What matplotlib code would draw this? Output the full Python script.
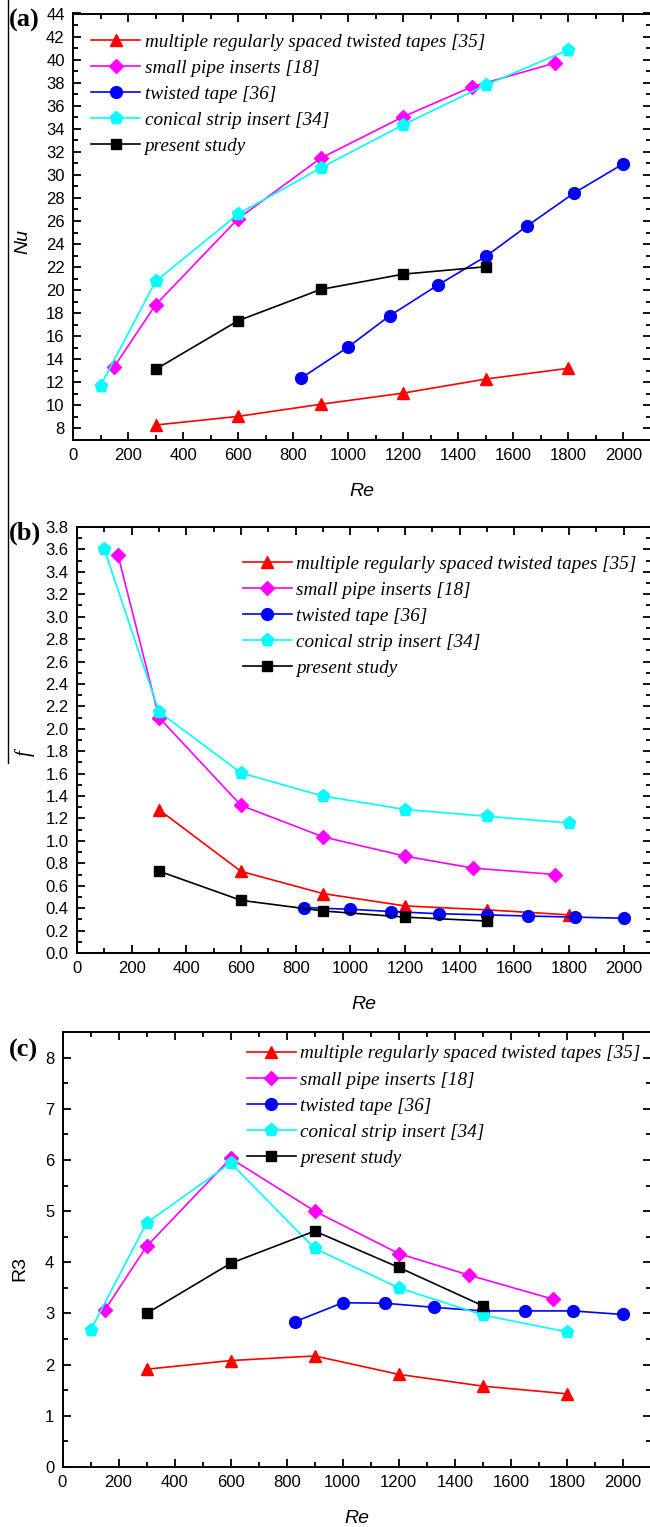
import matplotlib
matplotlib.use("Agg")
import matplotlib.pyplot as plt
from matplotlib.ticker import MultipleLocator
from matplotlib.lines import Line2D

# ---------------- data ----------------
labels = ["multiple regularly spaced twisted tapes [35]",
          "small pipe inserts [18]",
          "twisted tape [36]",
          "conical strip insert [34]",
          "present study"]
colors = ["#ff0000", "#ff00ff", "#0000ff", "#00ffff", "#000000"]
markers = ["^", "D", "o", "p", "s"]

# Re values
re_msst = [300, 600, 900, 1200, 1500, 1800]
re_spi = [150, 300, 600, 900, 1200, 1450, 1750]
re_tt = [830, 1000, 1150, 1325, 1500, 1650, 1822, 2000]
re_csi = [100, 300, 600, 900, 1200, 1500, 1800]
re_ps = [300, 600, 900, 1200, 1500]

# (a) Nu
nu_msst = [8.3, 9.05, 10.1, 11.07, 12.29, 13.22]
nu_spi = [13.36, 18.72, 26.2, 31.45, 35.05, 37.65, 39.7]
nu_tt = [12.38, 15.07, 17.77, 20.43, 22.93, 25.57, 28.45, 30.97]
nu_csi = [11.7, 20.76, 26.6, 30.6, 34.35, 37.8, 40.85]
nu_ps = [13.13, 17.35, 20.06, 21.39, 22.03]

# (b) f
f_msst = [1.278, 0.728, 0.53, 0.42, 0.385, 0.34]
f_spi = [3.55, 2.10, 1.317, 1.036, 0.864, 0.757, 0.70]
f_tt = [0.405, 0.39, 0.37, 0.35, 0.34, 0.33, 0.32, 0.31]
f_csi = [3.60, 2.152, 1.606, 1.40, 1.28, 1.22, 1.16]
f_ps = [0.73, 0.47, 0.375, 0.32, 0.285]

# (c) R3
r3_msst = [1.91, 2.08, 2.17, 1.81, 1.58, 1.43]
r3_spi = [3.06, 4.31, 6.03, 5.0, 4.17, 3.75, 3.28]
r3_tt = [2.84, 3.21, 3.2, 3.12, 3.05, 3.05, 3.05, 2.98]
r3_csi = [2.67, 4.77, 5.94, 4.27, 3.5, 2.97, 2.64]
r3_ps = [3.0, 3.98, 4.61, 3.90, 3.15]

xs = [re_msst, re_spi, re_tt, re_csi, re_ps]
panel_ys = [
    [nu_msst, nu_spi, nu_tt, nu_csi, nu_ps],
    [f_msst, f_spi, f_tt, f_csi, f_ps],
    [r3_msst, r3_spi, r3_tt, r3_csi, r3_ps],
]

W, H = 650, 1527
fig = plt.figure(figsize=(W / 100, H / 100), dpi=100)

def rect(l, t, r, b):
    return [l / W, 1 - b / H, (r - l) / W, (b - t) / H]

ax_rects = [rect(73, 13.5, 651, 440), rect(77, 527, 651, 953), rect(62.5, 1032, 651, 1467)]
ylims = [(7, 44), (0, 3.8), (0, 8.5)]
ymaj = [2, 0.2, 1]
ymin = [1, 0.1, 0.5]
yfmt = ["{:.0f}", "{:.1f}", "{:.0f}"]
ylab = ["Nu", "f", "R3"]
ylab_coords = [(-0.072, 0.465), (-0.074, 0.47), (-0.058, 0.457)]
letters = ["(a)", "(b)", "(c)"]
letter_pos = [(24, 20), (25, 533), (23, 1050)]
leg_anchor = [(0.032, 0.953), (0.289, 0.933), (0.3135, 0.970)]

sans = ["Liberation Sans", "DejaVu Sans"]
serif = ["Liberation Serif", "DejaVu Serif"]

msizes = {"^": 8.5, "D": 7.2, "o": 8.5, "p": 9.5, "s": 7.8}

for i in range(3):
    ax = fig.add_axes(ax_rects[i])
    for k in range(5):
        ax.plot(xs[k], panel_ys[i][k], color=colors[k], marker=markers[k],
                markersize=msizes[markers[k]], linewidth=1.2, label=labels[k])
    ax.set_xlim(0, 2100)
    ax.set_ylim(*ylims[i])
    ax.xaxis.set_major_locator(MultipleLocator(200))
    ax.xaxis.set_minor_locator(MultipleLocator(100))
    ax.yaxis.set_major_locator(MultipleLocator(ymaj[i]))
    ax.yaxis.set_minor_locator(MultipleLocator(ymin[i]))
    ax.tick_params(which="both", direction="in", top=True, right=True, width=1.3)
    ax.tick_params(which="major", length=6, labelsize=12, pad=6)
    ax.tick_params(which="minor", length=3.5)
    xt = [t for t in ax.get_xticks() if 0 <= t <= 2000]
    ax.set_xticks(xt)
    ax.set_xticklabels([str(int(v)) for v in xt], fontfamily=sans)
    yt = [t for t in ax.get_yticks() if ylims[i][0] - 1e-9 <= t <= ylims[i][1] + 1e-9]
    if i == 0:
        yt = [t for t in yt if t >= 8]
    ax.set_yticks(yt)
    ax.set_yticklabels([yfmt[i].format(t) for t in yt], fontfamily=sans)
    for s in ax.spines.values():
        s.set_linewidth(1.4)
    ax.set_xlabel("Re", fontsize=14, fontstyle="italic", fontfamily=sans, labelpad=14)
    if i == 1:
        ax.set_ylabel("f", fontsize=15, fontstyle="italic", fontfamily=serif)
    else:
        ax.set_ylabel(ylab[i], fontsize=14, fontstyle="italic" if i == 0 else "normal",
                      fontfamily=sans)
    ax.yaxis.set_label_coords(*ylab_coords[i])
    ax.legend(loc="upper left", bbox_to_anchor=leg_anchor[i], frameon=False,
              numpoints=1, handlelength=2.55, handletextpad=0.22,
              labelspacing=0.45, borderpad=0, borderaxespad=0,
              prop={"family": serif, "style": "italic", "size": 13.8})
    fig.text(letter_pos[i][0] / W, 1 - letter_pos[i][1] / H, letters[i],
             fontsize=19, fontweight="bold", fontfamily=serif,
             ha="center", va="center")

# left border artifact line
fig.add_artist(Line2D([7.5 / W, 7.5 / W], [1.0, 1 - 763 / H], color="black",
                      linewidth=1.0, transform=fig.transFigure))

fig.savefig("out.png", dpi=100)
